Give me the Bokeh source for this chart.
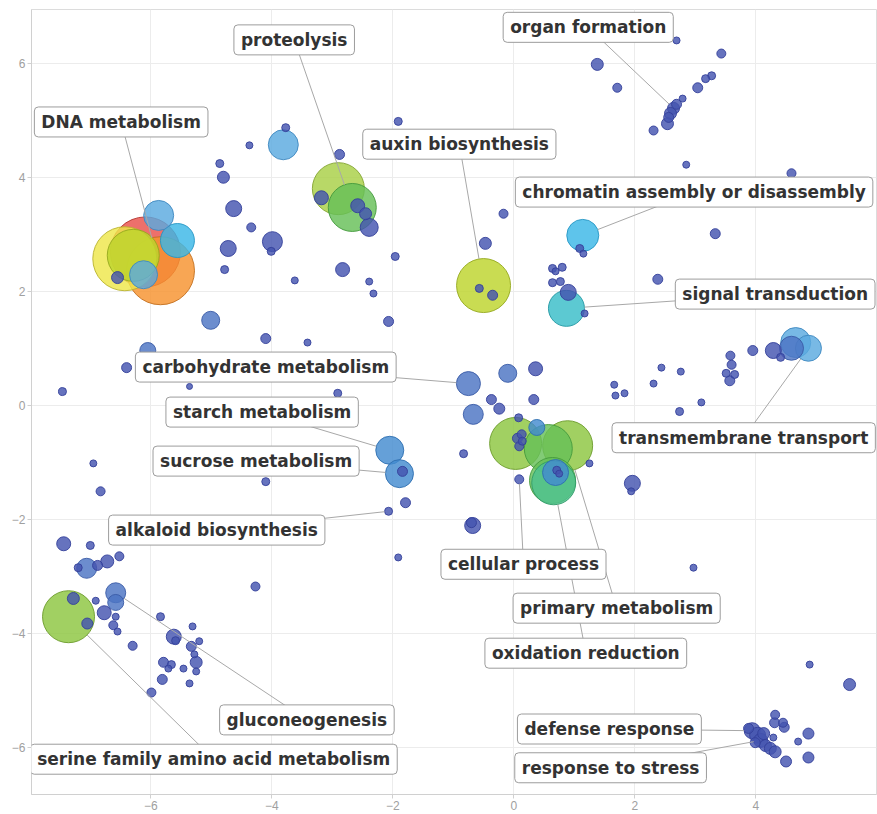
import math
from bokeh.plotting import figure
from bokeh.models import ColumnDataSource, LinearColorMapper, Label, Range1d, FixedTicker
from bokeh.transform import transform
from bokeh.embed import file_html
from bokeh.resources import INLINE

# ---------------- data (semantic space coordinates) ----------------
term_x = [
    -6.09, -5.84, -6.43, -6.29, -5.87, -5.56, -6.12, -6.55, -3.77, -3.81,
    -4.37, -4.86, -4.80, -4.63, -4.34, -4.72, -3.99, -4.01, -4.78, -3.62,
    -1.91, -2.88, -2.90, -2.67, -3.18, -2.58, -2.45, -2.39, -0.17, -0.47,
    -1.96, -2.83, -2.39, -2.32, -0.50, -0.57, -0.35, 1.14, 1.09, 1.15,
    0.64, 0.80, 0.69, 0.77, 0.64, 0.90, 0.87, 1.17, 2.69, 3.43,
    1.38, 1.71, 3.27, 3.17, 3.04, 2.79, 2.64, 2.59, 2.56, 2.54,
    2.69, 2.31, 2.85, 4.59, 3.33, 2.38, -5.01, -4.10, -6.05, -6.40,
    -7.46, -5.36, -6.95, -6.83, -4.10, -7.44, -7.00, -2.07, -3.41, -2.91,
    -0.75, -0.10, 0.36, -0.37, -0.24, 0.33, -0.67, 0.08, 0.38, -2.05,
    -1.89, -1.84, -0.83, 0.09, -1.79, -2.07, -0.68, -0.70, -1.91, 0.03,
    0.89, 0.57, 0.66, 0.64, 0.69, 0.71, 0.75, 0.06, 0.13, 0.09,
    0.14, 1.25, 4.66, 4.87, 4.59, 4.29, 4.41, 3.95, 3.58, 3.60,
    3.51, 3.65, 3.57, 2.44, 2.76, 2.31, 1.66, 1.68, 1.83, 2.74,
    3.10, 1.96, 1.94, 2.97, -7.06, -7.20, -6.88, -6.72, -6.52, -7.36,
    -7.28, -7.05, -6.58, -6.58, -6.91, -6.77, -6.58, -6.62, -6.55, -6.30,
    -5.84, -5.62, -5.59, -5.31, -5.20, -5.33, -5.28, -5.25, -5.25, -5.46,
    -5.79, -5.66, -5.71, -5.81, -5.36, -5.99, -4.27, 4.89, 5.55, 3.94,
    4.03, 4.08, 4.16, 4.24, 4.32, 3.88, 4.32, 4.31, 4.45, 4.47,
    4.29, 4.70, 4.87, 4.87, 4.50, 4.13, 3.99,
]
term_y = [
    2.70, 2.37, 2.58, 2.64, 3.34, 2.90, 2.30, 2.25, 4.88, 4.58,
    4.57, 4.25, 4.01, 3.46, 3.13, 2.76, 2.88, 2.71, 2.39, 2.20,
    4.99, 4.41, 3.81, 3.48, 3.65, 3.51, 3.37, 3.13, 3.37, 2.85,
    2.62, 2.39, 2.18, 1.97, 2.11, 2.06, 1.94, 2.99, 2.76, 2.67,
    2.41, 2.43, 2.36, 2.18, 2.16, 1.99, 1.71, 1.62, 6.41, 6.18,
    5.99, 5.58, 5.79, 5.74, 5.58, 5.39, 5.22, 5.13, 5.06, 4.95,
    5.29, 4.83, 4.23, 4.08, 3.02, 2.22, 1.50, 1.18, 0.97, 0.67,
    0.25, 0.34, -1.01, -1.50, -1.33, -2.42, -2.45, 1.48, 1.11, 0.22,
    0.39, 0.57, 0.65, 0.11, -0.05, 0.11, -0.15, -0.21, -0.38, -0.78,
    -1.19, -1.15, -0.84, -1.29, -1.70, -1.85, -2.10, -2.05, -2.66, -0.66,
    -0.70, -0.75, -1.35, -1.31, -1.17, -1.13, -1.19, -0.57, -0.50, -0.71,
    -0.62, -1.01, 1.11, 1.01, 1.01, 0.97, 0.85, 0.97, 0.88, 0.72,
    0.57, 0.55, 0.44, 0.67, 0.60, 0.39, 0.37, 0.18, 0.22, -0.10,
    0.06, -1.36, -1.50, -2.84, -2.85, -2.84, -2.80, -2.73, -2.64, -3.70,
    -3.38, -3.82, -3.28, -3.45, -3.42, -3.63, -3.70, -3.85, -3.96, -4.21,
    -3.70, -4.05, -4.12, -3.87, -4.13, -4.22, -4.36, -4.50, -4.66, -4.61,
    -4.50, -4.54, -4.61, -4.80, -4.87, -5.03, -3.17, -4.54, -4.89, -5.70,
    -5.78, -5.87, -5.96, -6.01, -6.07, -5.66, -5.42, -5.56, -5.56, -5.64,
    -5.82, -5.89, -5.75, -6.17, -6.24, -5.75, -5.91,
]
term_log_size = [
    7.0, 6.8, 6.4, 5.2, 3.0, 3.4, 2.8, 1.2, 0.8, 3.0,
    0.7, 0.8, 1.2, 1.6, 0.9, 1.6, 2.0, 0.8, 0.8, 0.7,
    0.8, 1.0, 5.2, 4.8, 1.4, 1.4, 1.2, 1.8, 0.9, 1.2,
    0.8, 1.4, 0.7, 0.7, 5.4, 0.8, 1.0, 3.2, 0.8, 0.7,
    0.8, 0.8, 0.7, 0.8, 0.8, 1.6, 3.6, 0.7, 0.7, 0.9,
    1.2, 0.9, 0.8, 0.8, 1.0, 0.7, 1.2, 1.2, 1.0, 1.2,
    1.0, 0.9, 0.7, 0.9, 1.0, 1.0, 1.8, 1.0, 1.6, 1.0,
    0.8, 0.6, 0.7, 0.9, 0.8, 1.4, 0.8, 1.0, 0.7, 0.8,
    2.4, 1.8, 1.4, 1.0, 1.1, 1.0, 2.0, 0.8, 1.6, 2.8,
    2.8, 1.0, 0.8, 0.9, 1.0, 0.8, 1.6, 1.0, 0.7, 5.2,
    5.0, 4.8, 4.4, 4.6, 2.6, 0.8, 0.7, 1.0, 0.9, 0.9,
    0.8, 0.7, 3.0, 2.6, 2.4, 1.6, 0.8, 1.0, 0.9, 0.9,
    0.8, 0.8, 1.0, 0.7, 0.7, 0.7, 0.7, 0.7, 0.7, 0.8,
    0.7, 1.6, 0.7, 0.7, 2.0, 0.8, 1.0, 1.3, 0.9, 5.2,
    1.2, 1.1, 2.0, 1.6, 0.7, 1.4, 0.7, 0.9, 0.7, 0.9,
    0.8, 1.5, 0.8, 0.7, 0.7, 1.0, 0.7, 1.2, 0.7, 0.7,
    1.0, 0.8, 0.7, 1.0, 0.7, 0.9, 0.9, 0.7, 1.2, 1.6,
    1.6, 1.4, 1.2, 1.2, 1.2, 1.0, 0.9, 1.0, 0.9, 1.0,
    0.7, 0.7, 1.1, 1.1, 1.1, 1.2, 1.0,
]
term_value = [
    13, 12, 11, 10, 3, 4, 3, 0, 0, 3,
    0, 0, 0, 0, 0, 0, 0, 0, 0, 0,
    0, 0, 9, 7, 0, 0, 0, 0, 0, 0,
    0, 0, 0, 0, 10, 0, 0, 4, 0, 0,
    0, 0, 0, 0, 0, 0, 5, 0, 0, 0,
    0, 0, 0, 0, 0, 0, 0, 0, 0, 0,
    0, 0, 0, 0, 0, 0, 1, 0, 1, 0,
    0, 0, 0, 0, 0, 0, 0, 0, 0, 0,
    1, 1, 0, 0, 0, 0, 1, 0, 2, 2,
    2, 0, 0, 0, 0, 0, 0, 0, 0, 8,
    8, 7, 6, 7, 2, 0, 0, 0, 0, 0,
    0, 0, 3, 3, 1, 0, 0, 0, 0, 0,
    0, 0, 0, 0, 0, 0, 0, 0, 0, 0,
    0, 0, 0, 0, 1, 0, 0, 0, 0, 8,
    0, 0, 1, 1, 0, 0, 0, 0, 0, 0,
    0, 0, 0, 0, 0, 0, 0, 0, 0, 0,
    0, 0, 0, 0, 0, 0, 0, 0, 0, 0,
    0, 0, 0, 0, 0, 0, 0, 0, 0, 0,
    0, 0, 0, 0, 0, 0, 0,
]

label_text = [
    "proteolysis", "DNA metabolism", "organ formation", "auxin biosynthesis",
    "chromatin assembly or disassembly", "signal transduction",
    "carbohydrate metabolism", "transmembrane transport", "starch metabolism",
    "sucrose metabolism", "alkaloid biosynthesis", "cellular process",
    "primary metabolism", "oxidation reduction", "gluconeogenesis",
    "serine family amino acid metabolism", "defense response", "response to stress",
]
label_term = [23, 1, 56, 34, 37, 46, 80, 113, 89, 90, 95, 93, 100, 102, 142, 139, 169, 171]
# label placement (layout)
label_pos_x = [-3.63, -6.49, 1.23, -0.90, 2.98, 4.32, -4.10, 3.80, -4.16,
               -4.26, -4.91, 0.16, 1.70, 1.19, -3.42, -4.96, 1.58, 1.60]
label_pos_y = [6.42, 4.98, 6.64, 4.59, 3.75, 1.96, 0.68, -0.56, -0.11,
               -0.97, -2.18, -2.78, -3.55, -4.34, -5.51, -6.20, -5.67, -6.35]

x_ticks = [-6, -4, -2, 0, 2, 4]
y_ticks = [-6, -4, -2, 0, 2, 4, 6]

# ---------------- layout ----------------
X0, X1 = -7.972, 5.995
Y0, Y1 = -6.819, 6.953
W, H = 877, 814
BL, BR, BT, BB = 31, 1, 9, 20
sx = (W - BL - BR) / (X1 - X0)
sy = (H - BT - BB) / (Y1 - Y0)

fill_pal = ["#4454B0", "#4C74C3", "#438BD0", "#5AA9DF", "#3BB7E6", "#38BDC8", "#4DC18E",
            "#66BF58", "#8CC63F", "#A8CF45", "#BDD42C", "#EEE64A", "#F7932E", "#E9504A"]
line_pal = ["#34409A", "#3A5BA6", "#2F6FB0", "#3F88C0", "#2797C4", "#2197A2", "#2F9A66",
            "#44993C", "#6B9B2B", "#82A32F", "#95A81E", "#B9B22E", "#C26F1E", "#B53530"]
fill_map = LinearColorMapper(palette=fill_pal, low=-0.5, high=13.5)
line_map = LinearColorMapper(palette=line_pal, low=-0.5, high=13.5)

p = figure(width=W, height=H, x_range=Range1d(X0, X1), y_range=Range1d(Y0, Y1),
           output_backend="svg", toolbar_location=None,
           min_border_left=BL, min_border_right=BR, min_border_top=BT, min_border_bottom=BB)
p.background_fill_color = "white"
p.border_fill_color = "white"
p.outline_line_color = "#dcdcdc"

for ax in (p.xaxis, p.yaxis):
    ax.axis_line_color = "#d0d0d0"
    ax.major_tick_line_color = "#d0d0d0"
    ax.major_tick_out = 4
    ax.major_tick_in = 0
    ax.minor_tick_line_color = None
    ax.major_label_text_color = "#a0a0a0"
    ax.major_label_text_font = "Liberation Sans"
    ax.major_label_text_font_size = "12px"
    ax.major_label_standoff = 2
p.xaxis.ticker = FixedTicker(ticks=x_ticks)
p.yaxis.ticker = FixedTicker(ticks=y_ticks)
p.grid.grid_line_color = "#ececec"
p.grid.grid_line_width = 1

order = sorted(range(len(term_x)), key=lambda i: -term_log_size[i])
src = ColumnDataSource(dict(
    x=[term_x[i] for i in order],
    y=[term_y[i] for i in order],
    size=[10 * term_log_size[i] for i in order],
    value=[term_value[i] for i in order],
))
p.scatter("x", "y", size="size", source=src,
          fill_color=transform("value", fill_map), line_color=transform("value", line_map),
          fill_alpha=0.82, line_alpha=0.9, line_width=1)

# leader lines: from label centre to the edge of the target bubble
x0s, y0s, x1s, y1s = [], [], [], []
for k, ti in enumerate(label_term):
    tx, ty = term_x[ti], term_y[ti]
    lx, ly = label_pos_x[k], label_pos_y[k]
    r = 5 * term_log_size[ti]
    dxp, dyp = (lx - tx) * sx, (ly - ty) * sy
    d = math.hypot(dxp, dyp) or 1
    x0s.append(lx); y0s.append(ly)
    x1s.append(tx + dxp / d * r / sx); y1s.append(ty + dyp / d * r / sy)
p.segment(x0s, y0s, x1s, y1s, line_color="#a8a8a8", line_width=1)

pad = dict(left=7, right=7, top=5, bottom=5)
for k, t in enumerate(label_text):
    common = dict(x=label_pos_x[k], y=label_pos_y[k], text=t, text_align="center",
                  text_baseline="middle", text_font="DejaVu Sans", text_font_style="bold",
                  text_font_size="17px", padding=pad, border_radius=4)
    p.add_layout(Label(x_offset=2, y_offset=-3, text_color="#000000", text_alpha=0.0,
                       background_fill_color="#000000", background_fill_alpha=0.13, **common))
    p.add_layout(Label(text_color="#333333", background_fill_color="white",
                       background_fill_alpha=1.0, border_line_color="#9c9c9c",
                       border_line_width=1, **common))

open("out.html", "w").write(file_html(p, INLINE))
